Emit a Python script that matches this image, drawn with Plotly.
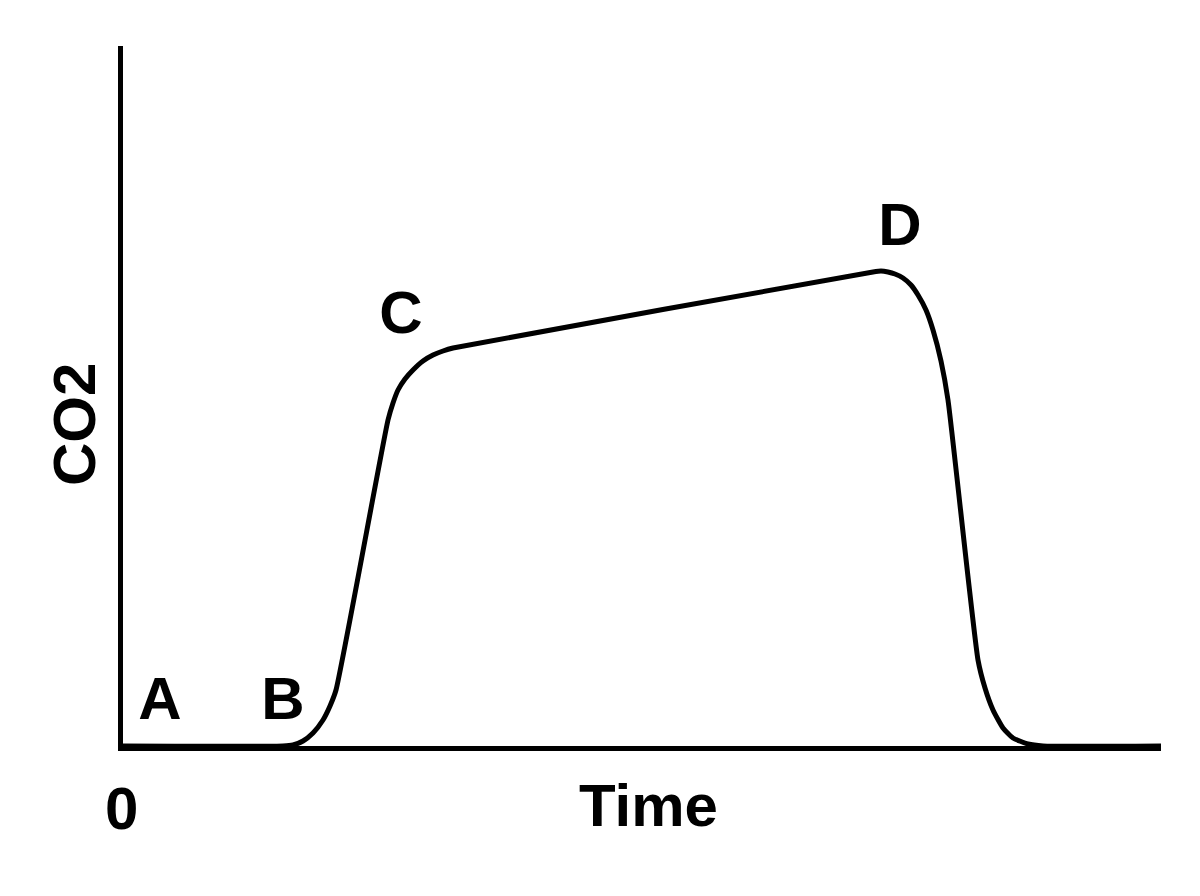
import plotly.graph_objects as go

# capnogram outline, x = time units, y = CO2 units
time = [0, 160, 170, 180, 190, 200, 207, 213, 265, 270, 275, 282, 290, 300, 310, 320, 330,
        750, 758, 765, 772, 780, 788, 795, 803, 810, 818, 825, 855, 862, 870, 880, 890, 905, 920, 1038]
co2 = [0, 0, 1, 5, 13, 26, 40, 56, 326, 343, 356, 367, 376, 385, 391, 395, 398,
       474, 475, 474, 472, 468, 461, 451, 436, 416, 385, 346, 86, 58, 36, 18, 8, 2, 0, 0]

labels = ["A", "B", "C", "D"]
label_x = [37, 160, 278, 777]
label_y = [42, 42, 428, 516]

font = dict(family="Liberation Sans, Arial", size=60, color="black")

fig = go.Figure()
fig.add_trace(go.Scatter(x=time, y=co2, mode="lines",
                         line=dict(color="black", width=5, shape="spline", smoothing=0.5)))
fig.add_trace(go.Scatter(x=label_x, y=label_y, mode="text", text=["<b>%s</b>" % l for l in labels],
                         textfont=font, textposition="middle center"))

fig.update_layout(
    width=1200, height=896, showlegend=False,
    paper_bgcolor="white", plot_bgcolor="white",
    margin=dict(l=115, r=47, t=38, b=158),
    xaxis=dict(range=[0, 1038], showgrid=False, zeroline=False, showticklabels=False,
               showline=True, linecolor="black", linewidth=5),
    yaxis=dict(range=[0, 700], showgrid=False, zeroline=False, showticklabels=False,
               showline=True, linecolor="black", linewidth=5),
)


def px(x, y):
    return (x - 120) / 1038, (746 - y) / 700


for txt, (x, y), ang in [("0", px(118, 808), 0), ("Time", px(645, 805), 0), ("CO2", px(72, 425), -90)]:
    fig.add_annotation(text="<b>%s</b>" % txt, x=x, y=y, xref="paper", yref="paper",
                       showarrow=False, font=font, textangle=ang, xanchor="center", yanchor="middle")
fig.write_html("out.html")
